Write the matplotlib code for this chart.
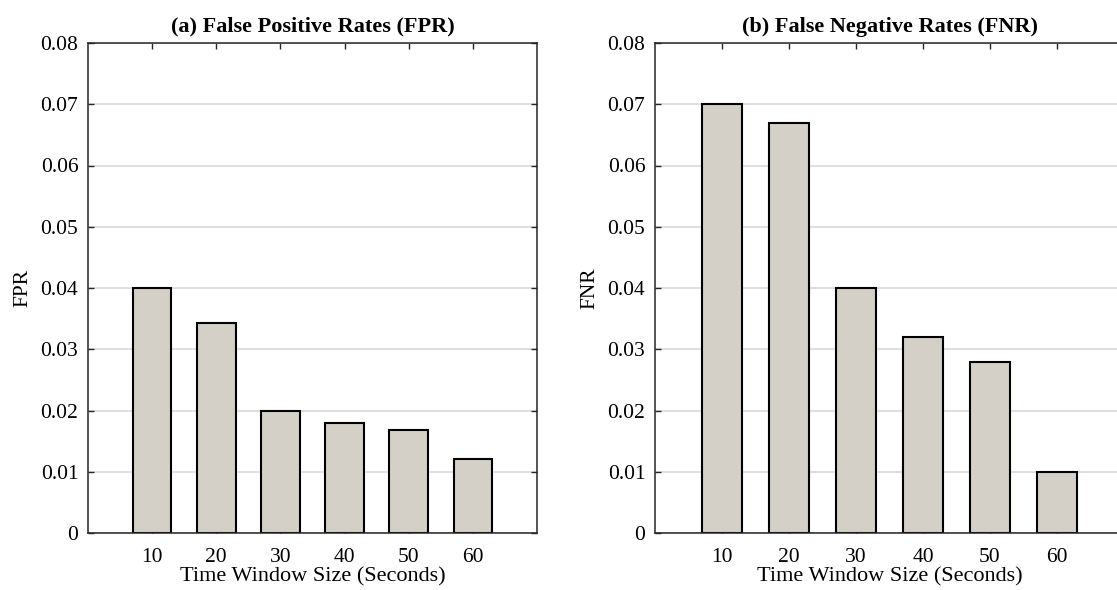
import numpy as np
import matplotlib
matplotlib.use('Agg')
import matplotlib.pyplot as plt

# data
windows = ['10', '20', '30', '40', '50', '60']
fpr = [0.040, 0.0343, 0.020, 0.018, 0.0168, 0.0121]
fnr = [0.070, 0.067, 0.040, 0.032, 0.028, 0.010]
y_ticks = [0, 0.01, 0.02, 0.03, 0.04, 0.05, 0.06, 0.07, 0.08]
y_tick_labels = ['0', '0.01', '0.02', '0.03', '0.04', '0.05', '0.06', '0.07', '0.08']

plt.rcParams['font.family'] = ['Liberation Serif', 'DejaVu Serif']

fig = plt.figure(figsize=(11.17, 5.9), dpi=100)
W, H = 1117, 590
# axes boxes in pixels: left, top, right, bottom
ax1 = fig.add_axes([88 / W, 1 - 533 / H, (537 - 88) / W, (533 - 43) / H])
ax2 = fig.add_axes([655 / W, 1 - 533 / H, (1124 - 655) / W, (533 - 43) / H])

panels = [(ax1, fpr, 'FPR', '(a) False Positive Rates (FPR)'),
          (ax2, fnr, 'FNR', '(b) False Negative Rates (FNR)')]

x = np.arange(1, len(windows) + 1)
for ax, vals, ylab, title in panels:
    ax.bar(x, vals, width=0.6, color='#d4d0c8', edgecolor='black', linewidth=1.5, zorder=3)
    ax.set_xlim(0, 7)
    ax.set_ylim(0, 0.08)
    ax.set_xticks(x)
    ax.set_xticklabels(windows)
    ax.set_yticks(y_ticks)
    ax.set_yticklabels(y_tick_labels)
    ax.yaxis.grid(True, color='#dcdcdc', linewidth=1.3, zorder=0)
    ax.set_axisbelow(True)
    ax.tick_params(direction='in', top=True, right=True, length=4, width=1,
                   color='#262626', labelsize=15.5)
    ax.tick_params(axis='x', pad=11)
    ax.tick_params(axis='y', pad=7)
    for s in ax.spines.values():
        s.set_color('#262626')
        s.set_linewidth(1.1)
        s.set_zorder(4)
    ax.set_xlabel('Time Window Size (Seconds)', fontsize=16, labelpad=0)
    ax.set_ylabel(ylab, fontsize=15.5, labelpad=6)
    ax.set_title(title, fontsize=16, fontweight='bold', pad=8)

fig.savefig('out.png', dpi=100)
